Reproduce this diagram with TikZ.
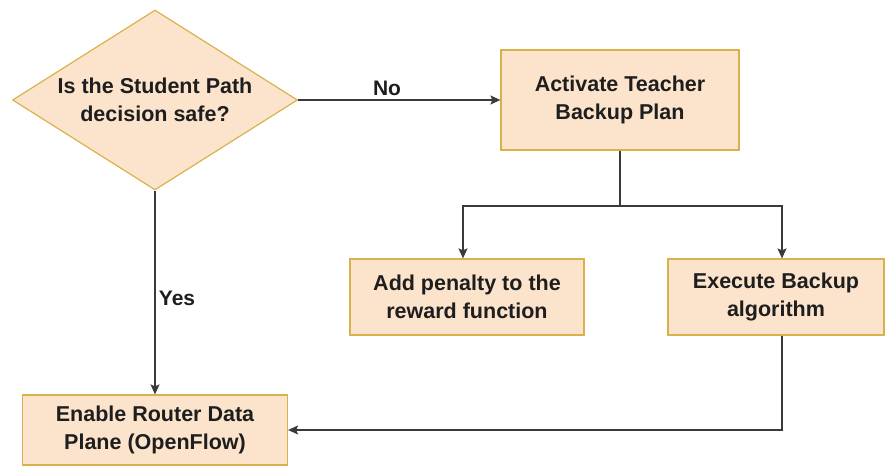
\documentclass[tikz,border=0pt]{standalone}
\usepackage{fontspec}
\setmainfont{Liberation Sans}
\usetikzlibrary{shapes.geometric,arrows.meta}
\definecolor{boxfill}{HTML}{FCE4CC}
\definecolor{boxline}{HTML}{D9B24C}
\definecolor{wire}{HTML}{3A3A3A}
\definecolor{ink}{HTML}{1E1E1E}
\tikzset{
  box/.style={draw=boxline, fill=boxfill, line width=1.2pt, rectangle,
    inner sep=0pt, align=center, font=\bfseries\fontsize{21.5}{28}\selectfont, text=ink},
  decision/.style={draw=boxline, fill=boxfill, line width=1.2pt, diamond,
    aspect=1.58, inner sep=0pt, align=center, font=\bfseries\fontsize{21.5}{28}\selectfont, text=ink},
  link/.style={draw=wire, line width=1.4pt, -{Stealth[length=10pt,width=9pt,inset=2pt]}},
  plain/.style={draw=wire, line width=1.4pt},
  tag/.style={font=\bfseries\fontsize{21}{24}\selectfont, text=ink, inner sep=0pt}
}
\begin{document}
\begin{tikzpicture}[x=1pt, y=-1pt]
\useasboundingbox (0,0) rectangle (886,470);

\node[decision, minimum width=285pt, minimum height=180pt] (dec) at (155,100)
  {Is the Student Path\\decision safe?};
\node[box, minimum width=238pt, minimum height=100pt] (act) at (620,100)
  {Activate Teacher\\Backup Plan};
\node[box, minimum width=234pt, minimum height=76pt] (pen) at (467,297)
  {Add penalty to the\\reward function};
\node[box, minimum width=216pt, minimum height=76pt] (exe) at (776,297)
  {Execute Backup\\algorithm};
\node[box, minimum width=265pt, minimum height=70pt] (rout) at (155,430)
  {Enable Router Data\\Plane (OpenFlow)};

\coordinate (split) at (act.south |- 0,206);
\coordinate (penin) at ([xshift=-4pt]pen.north);
\coordinate (exein) at ([xshift=6pt]exe.north);
\coordinate (exeout) at ([xshift=6pt]exe.south);

\draw[link] (dec.east) -- (act.west);
\node[tag] (no) at (387,88) {No};

\draw[plain] (act.south) -- (split);
\draw[link] (split) -| (penin);
\draw[link] (split) -| (exein);

\draw[link] (dec.south) -- (rout.north);
\node[tag] (yes) at (177,298) {Yes};

\draw[link] (exeout) |- (rout.east);
\end{tikzpicture}
\end{document}
